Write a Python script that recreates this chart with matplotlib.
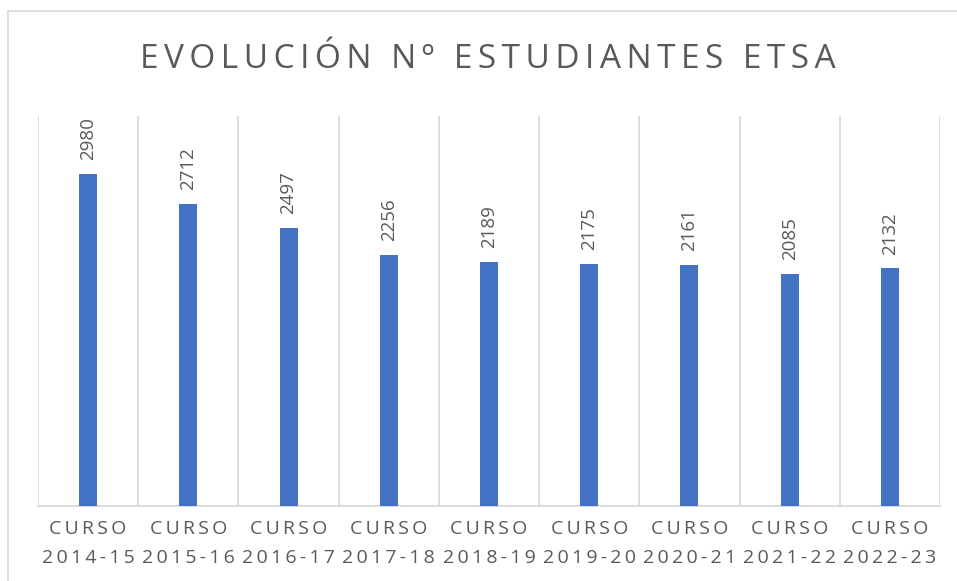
import matplotlib.pyplot as plt
from matplotlib.patches import Rectangle

# Data
cursos = ['2014-15', '2015-16', '2016-17', '2017-18', '2018-19',
          '2019-20', '2020-21', '2021-22', '2022-23']
estudiantes = [2980, 2712, 2497, 2256, 2189, 2175, 2161, 2085, 2132]
titulo = 'EVOLUCIÓN Nº ESTUDIANTES ETSA'

FONT = ['Open Sans', 'DejaVu Sans']
GRAY = '#595959'
GRID = '#D9D9D9'
BLUE = '#4472C4'


def spaced(s, sp='\u2009'):
    # fake letter spacing like the Excel chart
    return sp.join(s)


plt.rcParams['font.family'] = FONT

fig = plt.figure(figsize=(9.57, 5.81), dpi=100)
ax = fig.add_axes([38 / 957, 75 / 581, 902 / 957, 390 / 581])

# chart border
fig.patches.append(Rectangle((8 / 957, -0.05), 1.0, 1 - 11 / 581 + 0.05,
                             transform=fig.transFigure, fill=False,
                             edgecolor=GRID, linewidth=1.2))

x = list(range(len(cursos)))
ax.bar(x, estudiantes, width=0.18, color=BLUE, zorder=3)

ax.set_xlim(-0.5, len(cursos) - 0.5)
ax.set_ylim(0, 3500)

# vertical gridlines at category boundaries
ax.vlines([i - 0.5 for i in range(len(cursos) + 1)], 0, 3500,
          color=GRID, linewidth=1.3, zorder=1)

for s in ['top', 'left', 'right']:
    ax.spines[s].set_visible(False)
ax.spines['bottom'].set_color(GRID)
ax.spines['bottom'].set_linewidth(1.3)

ax.set_yticks([])
ax.set_xticks(x)
ax.set_xticklabels([spaced('CURSO') + '\n' + spaced(c) for c in cursos],
                   fontsize=14, color=GRAY, linespacing=1.8)
ax.tick_params(axis='x', length=0, pad=10)

for xi, v in zip(x, estudiantes):
    ax.annotate(str(v), (xi, v), xytext=(0, 10), textcoords='offset points',
                rotation=90, ha='center', va='bottom', fontsize=13.5,
                color=GRAY)

fig.text(488 / 957, 1 - 60 / 581, spaced(titulo), ha='center', va='center',
         fontsize=24, color=GRAY)

fig.savefig('out.png', dpi=100, facecolor='white')
